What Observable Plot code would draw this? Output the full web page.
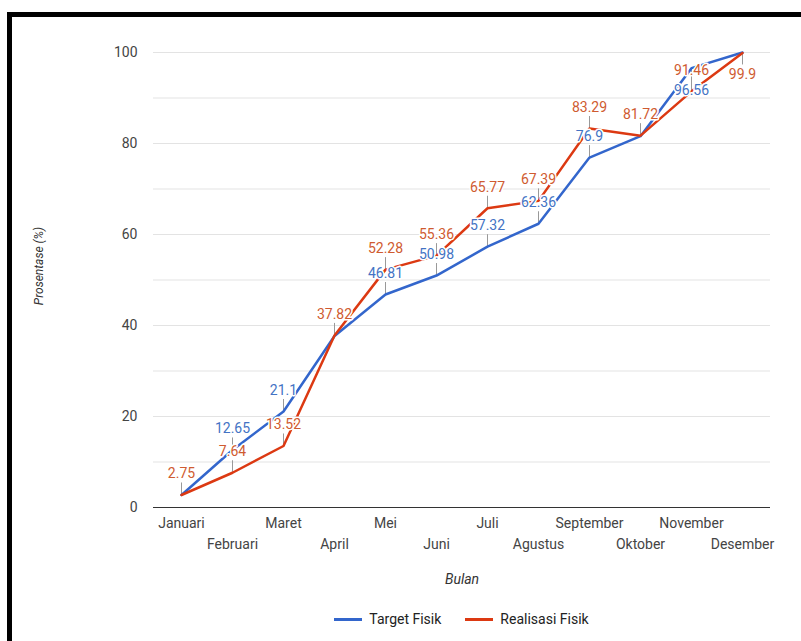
<!DOCTYPE html>
<html>
<head>
<meta charset="utf-8">
<script src="https://cdn.jsdelivr.net/npm/d3@7"></script>
<script src="https://cdn.jsdelivr.net/npm/@observablehq/plot@0.6"></script>
<style>
  body { margin: 0; background: #fff; font-family: Roboto, sans-serif; }
  #wrap { position: relative; width: 801px; height: 641px; overflow: hidden; background: #fff; }
  #chart { position: absolute; left: 0; top: 0; }
  #frame { position: absolute; left: 7px; top: 12px; right: -20px; bottom: -20px;
           border-top: 5px solid #000; border-left: 5px solid #000; pointer-events: none; }
  #legend { position: absolute; top: 611px; left: 0; width: 923px; display: flex;
            justify-content: center; align-items: center; font-size: 14px; color: #222; }
  .item { display: flex; align-items: center; margin: 0 12px; }
  .swatch { width: 28px; height: 3px; margin-right: 7px; }
</style>
</head>
<body>
<div id="wrap">
  <div id="chart"></div>
  <div id="legend"></div>
  <div id="frame"></div>
</div>
<script>
// ---- data ----
const months = ["Januari", "Februari", "Maret", "April", "Mei", "Juni", "Juli",
                "Agustus", "September", "Oktober", "November", "Desember"];
const targetFisik = [2.75, 12.65, 21.1, 37.7, 46.81, 50.98, 57.32, 62.36, 76.9, 81.6, 96.56, 100];
const realisasiFisik = [2.75, 7.64, 13.52, 37.82, 52.28, 55.36, 65.77, 67.39, 83.29, 81.72, 91.46, 99.9];
const seriesNames = ["Target Fisik", "Realisasi Fisik"];
const yTicks = [0, 20, 40, 60, 80, 100];
const yGrid = [10, 20, 30, 40, 50, 60, 70, 80, 90, 100];

// ---- styles ----
const blue = "#3366cc", red = "#dc3912";
const blueText = "#4373c4", redText = "#cf5b30";
const W = 801, H = 600, mTop = 52, mBottom = 93, mLeft = 153, mRight = 31;
const pxPerUnit = (H - mTop - mBottom) / 100;
const stemPx = 12;

const targetRows = months.map((m, i) => ({month: m, value: targetFisik[i], other: realisasiFisik[i]}));
const realRows = months.map((m, i) => ({month: m, value: realisasiFisik[i], other: targetFisik[i]}));

// annotations: target labels hidden where they coincide with realisasi
const targetLabels = targetRows.filter(d => Math.abs(d.value - d.other) >= 1);
const realLabels = realRows;
const isBelow = d => d.value > 95;

const row1 = months.filter((m, i) => i % 2 === 0);
const row2 = months.filter((m, i) => i % 2 === 1);

const stems = (rows) => Plot.ruleX(rows, {
  x: "month", y1: "value",
  y2: d => d.value + (isBelow(d) ? -1 : 1) * stemPx / pxPerUnit,
  stroke: "#999", strokeWidth: 1
});
const labels = (rows, fill, below) => Plot.text(rows.filter(d => isBelow(d) === below), {
  x: "month", y: "value", text: d => String(d.value),
  dy: below ? 22 : -21, lineAnchor: "middle",
  fill, fontSize: 14, stroke: "white", strokeWidth: 3
});

const chart = Plot.plot({
  width: W, height: H,
  marginTop: mTop, marginBottom: mBottom, marginLeft: mLeft, marginRight: mRight,
  style: {fontFamily: "Roboto, sans-serif", fontSize: "14px", background: "transparent"},
  x: {type: "point", domain: months, padding: 0.5, align: 0.5},
  y: {domain: [0, 100]},
  marks: [
    Plot.ruleY(yGrid, {stroke: "#e3e3e3", strokeWidth: 1}),
    Plot.ruleY([0], {stroke: "#333", strokeWidth: 1}),
    Plot.axisY({ticks: yTicks, tickSize: 0, tickPadding: 16, fill: "#444", fontSize: 14, label: null}),
    Plot.axisX({ticks: row1, tickSize: 0, tickPadding: 11, fill: "#444", fontSize: 14, label: null}),
    Plot.axisX({ticks: row2, tickSize: 0, tickPadding: 32, fill: "#444", fontSize: 14, label: null}),
    Plot.text(["Bulan"], {frameAnchor: "bottom", dy: 76, fontStyle: "italic", fill: "#333", fontSize: 14}),
    Plot.text(["Prosentase (%)"], {frameAnchor: "left", dx: -114, dy: -14, rotate: -90,
      textAnchor: "middle", fontStyle: "italic", fill: "#333", fontSize: 12}),
    stems(targetLabels),
    stems(realLabels),
    Plot.line(targetRows, {x: "month", y: "value", stroke: blue, strokeWidth: 2.5}),
    Plot.line(realRows, {x: "month", y: "value", stroke: red, strokeWidth: 2.5}),
    labels(targetLabels, blueText, false),
    labels(targetLabels, blueText, true),
    labels(realLabels, redText, false),
    labels(realLabels, redText, true)
  ]
});
document.getElementById("chart").appendChild(chart);

const legend = document.getElementById("legend");
[[seriesNames[0], blue], [seriesNames[1], red]].forEach(([name, c]) => {
  const it = document.createElement("div");
  it.className = "item";
  it.innerHTML = `<span class="swatch" style="background:${c}"></span><span>${name}</span>`;
  legend.appendChild(it);
});
</script>
</body>
</html>
